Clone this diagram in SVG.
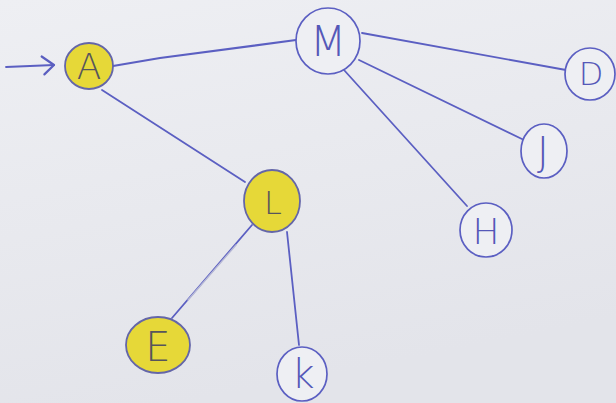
<svg xmlns="http://www.w3.org/2000/svg" width="616" height="403" viewBox="0 0 616 403">
<defs>
<linearGradient id="paper" x1="0" y1="0" x2="0.3" y2="1">
<stop offset="0" stop-color="#eeeff3"/>
<stop offset="1" stop-color="#e3e4ea"/>
</linearGradient>
<marker id="arr" markerWidth="20" markerHeight="22" refX="15" refY="11" orient="auto" markerUnits="userSpaceOnUse">
<path d="M3,2 L15,11 L5,20" fill="none" stroke="#5a5ec0" stroke-width="2.2" stroke-linecap="round" stroke-linejoin="round"/>
</marker>
</defs>
<style>
.edge{fill:none;stroke:#5b5fc2;stroke-width:1.8;stroke-linecap:round}
.yel{fill:#e6d838;stroke:#6466a8;stroke-width:1.8}
.wht{fill:#eeeff3;stroke:#5b5fc2;stroke-width:1.7}
.lbl{font-family:"DejaVu Sans","Liberation Sans",sans-serif;font-size:36px;font-weight:200;font-stretch:condensed;text-anchor:middle;dominant-baseline:central}
.dk{fill:#57555c}
.bl{fill:#5558b8}
</style>
<rect width="616" height="403" fill="url(#paper)"/>
<g id="connectors">
<path class="edge" d="M6,67 L54,65" marker-end="url(#arr)"/>
<path class="edge" d="M113,66 L160,58 L296,40" style="stroke-width:2.2"/>
<path class="edge" d="M245,182 L102,90"/>
<path class="edge" d="M362,33 L566,70"/>
<path class="edge" d="M359,60 L524,140"/>
<path class="edge" d="M344,70 L467,206"/>
<path class="edge" d="M252,225 L172,318"/>
<path class="edge" d="M236,245 L188,300" style="stroke:#b7b9d6;stroke-width:1.4"/>
<path class="edge" d="M287,232 L299,345"/>
</g>
<g id="node-A"><ellipse class="yel" cx="89" cy="66" rx="24" ry="23"/><text class="lbl dk" x="89" y="66">A</text></g>
<g id="node-M"><ellipse class="wht" cx="328" cy="41" rx="32" ry="33"/><text class="lbl bl" x="328" y="41" style="font-size:42px">M</text></g>
<g id="node-D"><ellipse class="wht" cx="590" cy="74" rx="25" ry="26"/><text class="lbl bl" x="591" y="74" style="font-size:32px">D</text></g>
<g id="node-J"><ellipse class="wht" cx="544" cy="151" rx="23" ry="27"/><text class="lbl bl" x="543" y="152" style="font-size:40px">J</text></g>
<g id="node-H"><ellipse class="wht" cx="486" cy="230" rx="26" ry="27"/><text class="lbl bl" x="486" y="231">H</text></g>
<g id="node-L"><ellipse class="yel" cx="272" cy="201" rx="28" ry="31"/><text class="lbl dk" x="273" y="203" style="font-size:32px">L</text></g>
<g id="node-E"><ellipse class="yel" cx="158" cy="345" rx="32" ry="28"/><text class="lbl dk" x="158" y="347" style="font-size:40px">E</text></g>
<g id="node-K"><ellipse class="wht" cx="302" cy="374" rx="25" ry="27"/><text class="lbl bl" x="303" y="374" style="font-size:40px">k</text></g>
</svg>
